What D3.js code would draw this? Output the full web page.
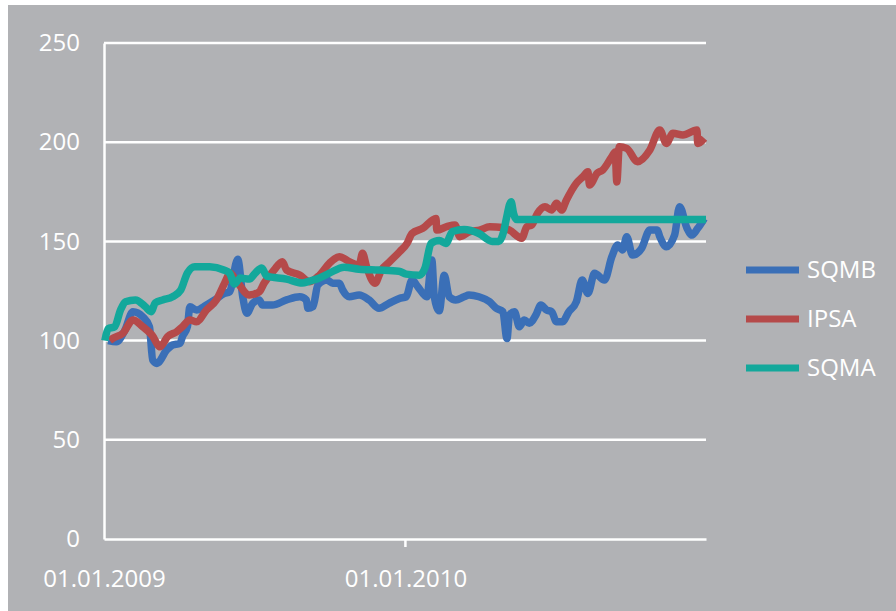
<!DOCTYPE html>
<html>
<head>
<meta charset="utf-8">
<script src="https://cdn.jsdelivr.net/npm/d3@7"></script>
<style>
  html, body { margin: 0; padding: 0; background: #ffffff; }
  svg { display: block; }
  text { font-family: "Open Sans", "DejaVu Sans", sans-serif; fill: #ffffff; }
</style>
</head>
<body>
<svg id="chart" width="896" height="611"></svg>
<script>
// ---- data ----
const seriesNames = ["SQMB", "IPSA", "SQMA"];
const seriesColors = ["#3a6fb7", "#b54a4a", "#13a89b"];
const yTicks = [0, 50, 100, 150, 200, 250];
const xTickLabels = ["2009-01-01", "2010-01-01"];

const sqmbDates = ["2009-01-06","2009-01-16","2009-01-26","2009-02-05","2009-02-17","2009-02-25","2009-03-01","2009-03-06","2009-03-18","2009-03-25","2009-04-03","2009-04-06","2009-04-12","2009-04-15","2009-04-23","2009-05-05","2009-05-15","2009-05-27","2009-06-02","2009-06-12","2009-06-18","2009-06-23","2009-06-30","2009-07-08","2009-07-12","2009-07-24","2009-08-10","2009-08-26","2009-09-03","2009-09-05","2009-09-11","2009-09-17","2009-09-28","2009-10-05","2009-10-13","2009-10-17","2009-10-25","2009-11-06","2009-11-18","2009-11-30","2009-12-12","2009-12-25","2010-01-02","2010-01-09","2010-01-16","2010-01-27","2010-02-02","2010-02-05","2010-02-11","2010-02-17","2010-02-23","2010-03-03","2010-03-13","2010-03-19","2010-03-31","2010-04-13","2010-04-21","2010-04-29","2010-05-04","2010-05-07","2010-05-13","2010-05-19","2010-05-25","2010-05-31","2010-06-08","2010-06-14","2010-06-21","2010-06-27","2010-07-03","2010-07-10","2010-07-18","2010-07-27","2010-08-03","2010-08-10","2010-08-18","2010-08-30","2010-09-08","2010-09-15","2010-09-21","2010-09-26","2010-10-03","2010-10-14","2010-10-24","2010-11-02","2010-11-05","2010-11-13","2010-11-23","2010-11-29","2010-12-08","2010-12-14","2010-12-21","2010-12-29"];
const sqmbValues = [100,99.4,105,114.6,112,107,90.2,88.5,95.3,97.8,98.6,102,107,117.1,115.4,117.9,120.5,123.8,124.6,141,122.1,113.8,118.8,120.5,117.9,117.9,120.5,122.1,120.5,116.3,117.1,128,130.5,128.9,128.9,125.5,122.1,123,120.5,116.3,118.8,121.3,122.1,130.5,127.2,122.1,140.6,122.1,115,133,122.1,120.5,122.1,123,122.1,119.6,116.3,114.6,101,112.9,114.6,107,110.4,108.7,112.9,117.9,115.4,114.6,109.5,109.5,114.6,119.6,130.5,123.8,133.9,130.5,142.3,148.2,145.7,152.4,143.1,146.5,155.7,155.7,152.4,147.3,153.2,167.5,156.6,153.2,156.6,161.6];

const ipsaDates = ["2009-01-08","2009-01-12","2009-01-24","2009-02-05","2009-02-17","2009-02-28","2009-03-10","2009-03-19","2009-03-30","2009-04-06","2009-04-15","2009-04-23","2009-05-05","2009-05-17","2009-05-27","2009-06-03","2009-06-09","2009-06-26","2009-07-08","2009-07-14","2009-07-26","2009-08-05","2009-08-10","2009-08-26","2009-09-07","2009-09-19","2009-10-01","2009-10-13","2009-10-25","2009-11-06","2009-11-10","2009-11-15","2009-11-25","2009-12-03","2009-12-13","2009-12-25","2010-01-03","2010-01-09","2010-01-22","2010-02-07","2010-02-08","2010-02-20","2010-03-02","2010-03-08","2010-03-20","2010-04-01","2010-04-13","2010-04-29","2010-05-07","2010-05-22","2010-05-28","2010-06-03","2010-06-10","2010-06-19","2010-06-27","2010-07-03","2010-07-09","2010-07-15","2010-07-27","2010-08-04","2010-08-10","2010-08-12","2010-08-21","2010-08-28","2010-09-08","2010-09-12","2010-09-14","2010-09-17","2010-09-26","2010-10-09","2010-10-24","2010-11-05","2010-11-13","2010-11-21","2010-12-03","2010-12-20","2010-12-21","2010-12-29"];
const ipsaValues = [100,101.2,103.7,110.4,107,102.8,96.9,102,104.5,107,110.4,109.5,115.4,120.5,128.9,134,131,123,124.6,129,135.6,139.8,135.6,133,129.7,133,139,142.3,139.8,138,144,137.2,128.9,135.6,139.8,144.8,149,154,156.6,161.6,155.7,157.4,158.3,152.4,154.9,155.7,157.4,157,155.7,151.6,157.4,158.3,164.2,167.5,165.8,169.2,165.8,170.9,179.3,182.6,185.1,178.4,184.3,186,192.7,195,180,197.7,196.9,190.2,196.1,206.2,199.4,204.5,203.6,206.2,199.4,202];

const sqmaDates = ["2009-01-02","2009-01-06","2009-01-14","2009-01-21","2009-01-27","2009-02-08","2009-02-20","2009-02-27","2009-03-04","2009-03-13","2009-03-25","2009-04-04","2009-04-12","2009-04-21","2009-05-09","2009-05-26","2009-06-02","2009-06-08","2009-06-15","2009-06-26","2009-07-03","2009-07-11","2009-07-17","2009-08-10","2009-08-29","2009-09-07","2009-09-19","2009-10-01","2009-10-19","2009-11-06","2009-11-30","2009-12-24","2010-01-02","2010-01-18","2010-01-25","2010-02-01","2010-02-11","2010-02-19","2010-02-27","2010-03-13","2010-03-31","2010-04-16","2010-04-24","2010-04-30","2010-05-03","2010-05-09","2010-05-12","2010-05-16","2010-12-31"];
const sqmaValues = [100,106,107,115.4,119.6,120.5,117.1,114.6,119,120.5,122.1,125.5,134.1,137.2,137.2,135.6,134,128.5,131.5,131,134,136.6,132.5,131,129,130,131.5,134,137,136,135.6,135,133.5,133,137,149,150.5,149,155,156,154,150,150,155,161,170,164,161,161];

// ---- chart ----
const parse = d3.timeParse("%Y-%m-%d");
const svg = d3.select("#chart");

svg.append("rect").attr("x", 8).attr("y", 5).attr("width", 888).attr("height", 606).attr("fill", "#b1b2b5");

const x = d3.scaleTime().domain([parse("2009-01-01"), parse("2010-12-31")]).range([104, 706]);
const y = d3.scaleLinear().domain([0, 250]).range([539, 43]);

// gridlines
svg.append("g").selectAll("line").data(yTicks.filter(d => d > 0)).join("line")
  .attr("x1", 104).attr("x2", 706)
  .attr("y1", d => y(d)).attr("y2", d => y(d))
  .attr("stroke", "#ffffff").attr("stroke-width", 2.5);

// y axis
const yAxis = svg.append("g").attr("transform", "translate(104,0)")
  .call(d3.axisLeft(y).tickValues(yTicks).tickSize(0).tickPadding(24));
yAxis.select(".domain").attr("stroke", "#ffffff").attr("stroke-width", 2.5);
yAxis.selectAll("text").style("font-size", "24px").attr("fill", "#ffffff");

// x axis
const xAxis = svg.append("g").attr("transform", "translate(0,539)")
  .call(d3.axisBottom(x).tickValues(xTickLabels.map(parse)).tickSize(0).tickFormat(d3.timeFormat("%d.%m.%Y")));
xAxis.select(".domain").attr("stroke", "#ffffff").attr("stroke-width", 2.5);
xAxis.selectAll("text").style("font-size", "24px").attr("fill", "#ffffff").attr("y", 40).attr("dy", "0.35em");
svg.append("line")
  .attr("x1", x(parse(xTickLabels[1]))).attr("x2", x(parse(xTickLabels[1])))
  .attr("y1", 539).attr("y2", 547)
  .attr("stroke", "#ffffff").attr("stroke-width", 2.5);

// series
const allSeries = [
  { dates: sqmbDates, values: sqmbValues },
  { dates: ipsaDates, values: ipsaValues },
  { dates: sqmaDates, values: sqmaValues }
];
const line = d3.line().curve(d3.curveMonotoneX).x(d => x(d.date)).y(d => y(d.value));
allSeries.forEach((s, i) => {
  const pts = s.dates.map((d, j) => ({ date: parse(d), value: s.values[j] }));
  svg.append("path").datum(pts)
    .attr("d", line)
    .attr("fill", "none")
    .attr("stroke", seriesColors[i])
    .attr("stroke-width", 7.5)
    .attr("stroke-linejoin", "miter")
    .attr("stroke-miterlimit", 6);
});

// legend
const legendY = [270, 319, 368];
const lg = svg.append("g");
seriesNames.forEach((n, i) => {
  lg.append("line").attr("x1", 746).attr("x2", 799).attr("y1", legendY[i]).attr("y2", legendY[i])
    .attr("stroke", seriesColors[i]).attr("stroke-width", 7);
  lg.append("text").attr("x", 807).attr("y", legendY[i]).attr("dy", "0.35em")
    .style("font-size", "24px").text(n);
});
</script>
</body>
</html>
